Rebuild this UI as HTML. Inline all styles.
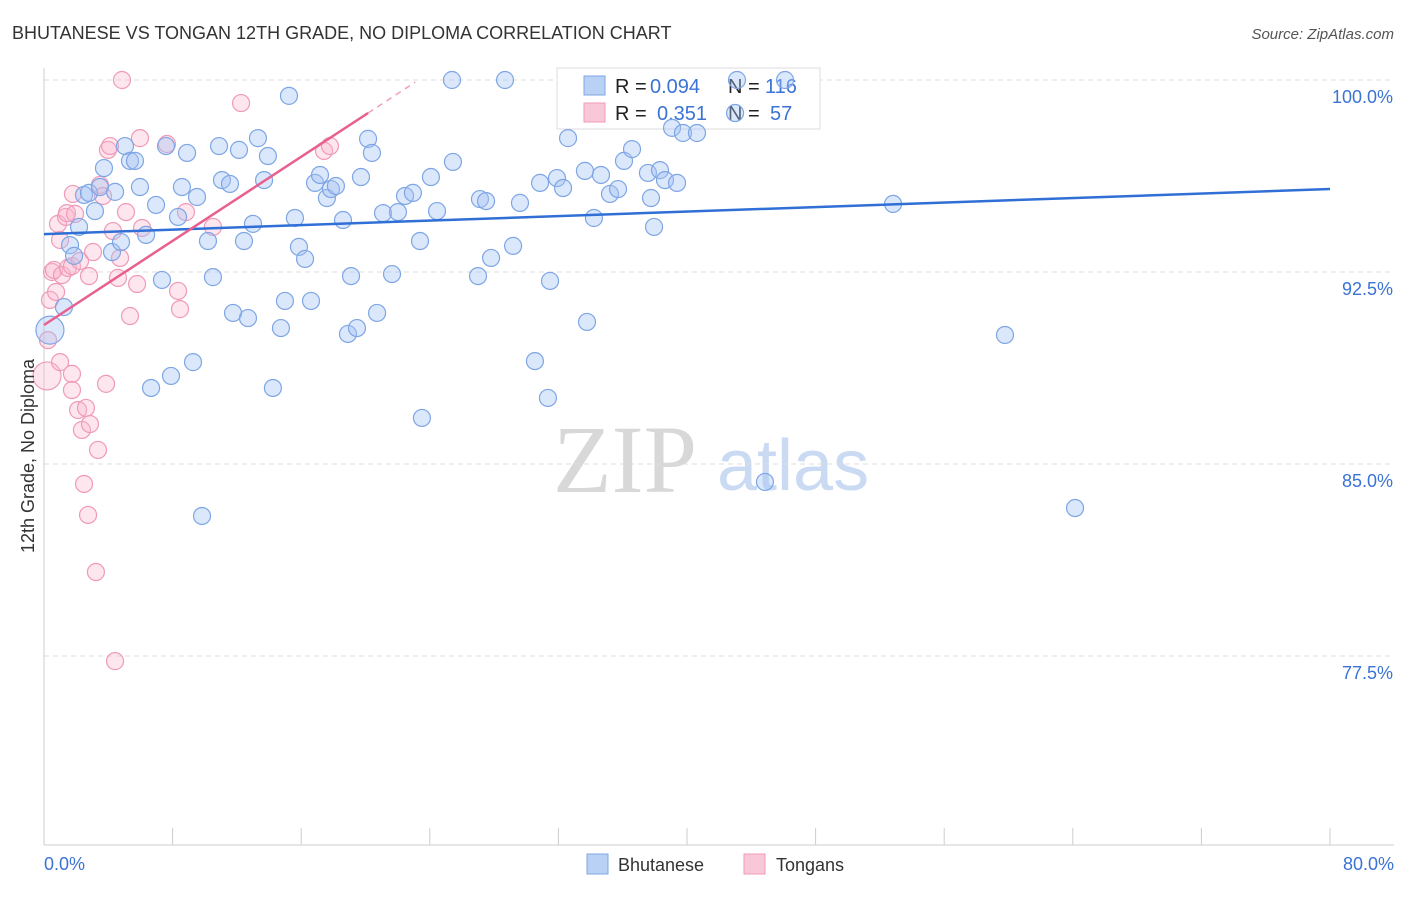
<!DOCTYPE html>
<html><head><meta charset="utf-8"><style>
body{margin:0;background:#fff;font-family:"Liberation Sans",sans-serif;}
svg text{font-family:"Liberation Sans",sans-serif;}
</style></head><body>
<svg id="chart" width="1406" height="892" xmlns="http://www.w3.org/2000/svg">
<text x="12" y="39" font-size="18" fill="#333">BHUTANESE VS TONGAN 12TH GRADE, NO DIPLOMA CORRELATION CHART</text>
<text x="1394" y="39" font-size="15" fill="#555" text-anchor="end" font-style="italic">Source: ZipAtlas.com</text>
<g>
<text x="553" y="492" font-size="96" fill="#d8d8d8" style="font-family:'Liberation Serif',serif">ZIP</text>
<text x="717" y="490" font-size="72" fill="#c9daf2">atlas</text>
</g>
<g id="grid"></g>
<g>
<rect x="557" y="68" width="263" height="61" fill="#fff" stroke="#ddd"/>
<rect x="584" y="76" width="21" height="19" fill="#b9d1f5" stroke="#7ea6e4"/>
<rect x="584" y="103" width="21" height="19" fill="#f9c8d8" stroke="#ef9ab8"/>
<text x="615" y="93" font-size="20" fill="#222">R =</text>
<text x="650" y="93" font-size="20" fill="#3b73d4">0.094</text>
<text x="728" y="93" font-size="20" fill="#222">N =</text>
<text x="765" y="93" font-size="20" fill="#3b73d4">116</text>
<text x="615" y="120" font-size="20" fill="#222">R =</text>
<text x="657" y="120" font-size="20" fill="#3b73d4">0.351</text>
<text x="728" y="120" font-size="20" fill="#222">N =</text>
<text x="770" y="120" font-size="20" fill="#3b73d4">57</text>
</g>
<g id="marks"></g>
<text transform="translate(34,456) rotate(-90)" font-size="18" fill="#333" text-anchor="middle">12th Grade, No Diploma</text>
<g>
<rect x="587" y="854" width="21" height="20" fill="#b9d1f5" stroke="#7ea6e4"/>
<text x="618" y="871" font-size="18" fill="#333">Bhutanese</text>
<rect x="744" y="854" width="21" height="20" fill="#f9c8d8" stroke="#ef9ab8"/>
<text x="776" y="871" font-size="18" fill="#333">Tongans</text>
</g>
</svg>
<script>
const xTicks=[0,80];
const yTicks=[100,92.5,85,77.5];
const blueX=[0.37,1.24,1.62,1.87,2.18,2.49,2.80,3.17,3.48,3.73,4.23,4.42,4.79,5.04,5.35,5.66,5.97,6.35,6.66,6.97,7.34,7.59,7.90,8.34,8.58,8.90,9.27,9.52,9.83,10.20,10.51,10.89,11.07,11.57,11.76,12.13,12.44,12.69,13.00,13.31,13.69,13.93,14.24,14.74,14.99,15.24,15.61,15.86,16.24,16.61,16.86,17.17,17.60,17.85,18.16,18.60,18.91,19.10,19.47,19.72,20.16,20.40,20.72,21.09,21.65,22.02,22.46,22.95,23.39,23.51,24.07,24.45,25.38,25.44,27.00,27.12,27.50,27.81,28.68,29.18,29.61,30.54,30.86,31.35,31.48,31.91,32.29,32.60,33.65,33.78,34.21,34.65,35.21,35.71,36.08,36.58,37.57,37.76,37.95,38.32,38.63,39.07,39.38,39.75,40.62,43.11,42.99,44.85,46.10,52.82,59.78,64.14];
const blueY=[90.23,91.13,93.55,93.13,94.26,95.51,95.59,94.88,95.82,96.56,93.28,95.63,93.67,97.42,96.84,96.84,95.82,93.95,87.97,95.12,92.19,97.42,88.44,94.65,95.82,97.15,88.98,95.43,82.97,93.71,92.30,97.42,96.09,95.94,90.90,97.27,93.71,90.70,94.38,97.73,96.09,97.03,87.97,90.31,91.37,99.38,94.61,93.48,93.01,91.37,95.98,96.29,95.39,95.74,95.86,94.53,90.08,92.34,90.31,96.21,97.70,97.15,90.90,94.80,92.42,94.84,95.47,95.59,93.71,86.80,96.21,94.88,100.0,96.80,92.34,95.35,95.27,93.05,100.0,93.52,95.20,89.02,95.98,87.58,92.15,96.17,95.78,97.73,96.45,90.55,94.61,96.29,95.55,95.74,96.84,97.30,96.37,95.39,94.26,96.48,96.09,98.13,95.98,97.93,97.93,100.0,98.71,84.30,100.0,95.16,90.04,83.28];
const pinkX=[0.19,0.25,0.37,0.50,0.62,0.75,0.87,1.00,1.00,1.12,1.37,1.43,1.49,1.74,1.74,1.74,1.80,1.93,2.12,2.24,2.36,2.49,2.61,2.74,2.80,2.86,3.05,3.23,3.36,3.48,3.67,3.86,3.98,4.11,4.29,4.42,4.60,4.73,4.85,5.10,5.35,5.79,5.97,6.10,7.65,8.34,8.46,8.83,10.51,12.26,17.42,17.79];
const pinkY=[88.44,89.84,91.41,92.50,92.58,91.72,94.38,93.75,88.98,92.38,94.65,94.80,92.66,92.73,88.52,87.89,95.55,94.77,87.11,92.93,86.33,84.22,87.19,83.01,92.34,86.56,93.28,80.78,85.55,95.90,95.47,88.13,97.27,97.42,94.10,77.30,92.27,93.05,100.0,94.84,90.78,92.03,97.73,94.22,97.50,91.76,91.05,94.84,94.26,99.10,97.23,97.42];
const blueTrend=[93.98,95.74];
const pinkTrend=[90.43,98.71];
const X0=44,X1=1330,Y100=80,PXPER=25.6;
function sx(v){return X0+(v-xTicks[0])/(xTicks[1]-xTicks[0])*(X1-X0);}
function sy(v){return Y100+(100-v)*PXPER;}
const NS="http://www.w3.org/2000/svg";
function mk(tag,attrs,parent){const e=document.createElementNS(NS,tag);for(const k in attrs)e.setAttribute(k,attrs[k]);parent.appendChild(e);return e;}
const grid=document.getElementById('grid'),marks=document.getElementById('marks');
yTicks.forEach(t=>{
 const l=mk('line',{x1:44,x2:1394,y1:sy(t),y2:sy(t),stroke:'#ddd','stroke-dasharray':'5,4'},grid);
 
 
 const tx=mk('text',{x:1393,y:sy(t)+23,'font-size':18,fill:'#3b73d4','text-anchor':'end'},grid);
 tx.textContent=t.toFixed(1)+'%';
 
 
});
mk('line',{x1:44,x2:44,y1:68,y2:845,stroke:'#ccc'},grid);
const xa=mk('line',{x1:44,x2:1394,y1:845,y2:845,stroke:'#ccc'},grid);


for(let i=0;i<=10;i++){const x=X0+i*(X1-X0)/10;mk('line',{x1:x,x2:x,y1:828,y2:845,stroke:'#ccc'},grid);}
xTicks.forEach((t,i)=>{
 const tx=mk('text',{x:i==0?44:1394,y:870,'font-size':18,fill:'#3b73d4','text-anchor':i==0?'start':'end'},grid);
 tx.textContent=t.toFixed(1)+'%';
 
 
});
function dot(x,y,r,fill,stroke,name){
 const c=mk('circle',{cx:sx(x),cy:sy(y),r:r,fill:fill,stroke:stroke,'stroke-width':1.2},marks);
 
 
}
pinkX.forEach((x,i)=>dot(x,pinkY[i],i==0?14:8.5,'rgba(248,184,206,0.35)','#ef9ab8','tongans-point'));
blueX.forEach((x,i)=>dot(x,blueY[i],i==0?14:8.5,'rgba(164,194,244,0.4)','#7ea6e4','bhutanese-point'));
const bt=mk('line',{x1:sx(0),y1:sy(blueTrend[0]),x2:sx(80),y2:sy(blueTrend[1]),stroke:'#2f6fd6','stroke-width':2.5},marks);


const slope=(pinkTrend[1]-pinkTrend[0])/20.16;
const pt=mk('line',{x1:sx(0),y1:sy(pinkTrend[0]),x2:sx(20.16),y2:sy(pinkTrend[1]),stroke:'#e8608f','stroke-width':2.5},marks);


const pd=mk('line',{x1:sx(20.16),y1:sy(pinkTrend[1]),x2:sx(23.1),y2:sy(pinkTrend[0]+slope*23.1),stroke:'#f0a0bc','stroke-width':1.5,'stroke-dasharray':'6,5'},marks);


</script>
</body></html>
